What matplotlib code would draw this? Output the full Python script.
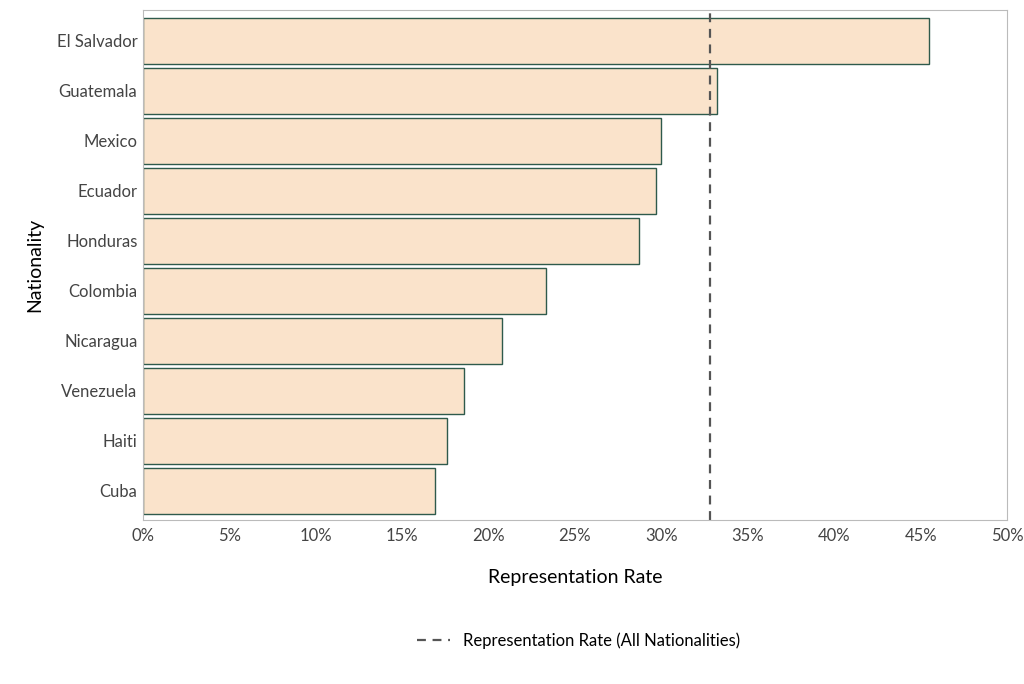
import matplotlib
matplotlib.use("Agg")
import matplotlib.pyplot as plt
from matplotlib.ticker import PercentFormatter
from matplotlib.lines import Line2D

plt.rcParams['font.family'] = ['Lato', 'DejaVu Sans']

countries = ["El Salvador", "Guatemala", "Mexico", "Ecuador", "Honduras",
             "Colombia", "Nicaragua", "Venezuela", "Haiti", "Cuba"]
rates = [0.455, 0.332, 0.300, 0.297, 0.287, 0.233, 0.208, 0.186, 0.176, 0.169]
overall_rate = 0.328

fig = plt.figure(figsize=(10.24, 6.84), dpi=100)
ax = fig.add_axes([0.1396, 0.2398, 0.8438, 0.7456])
n = len(countries)
ypos = list(range(n - 1, -1, -1))
ax.barh(ypos, rates, height=0.92, color='#FAE3CB', edgecolor='#2E5A4C', linewidth=1)
ax.axvline(overall_rate, color='#555555', linestyle=(0, (4, 3)), linewidth=1.6)
ax.set_xlim(0, 0.5)
ax.set_ylim(-0.58, n - 1 + 0.62)
ax.set_yticks(ypos)
ax.set_yticklabels(countries, fontsize=12, color='#444444')
ax.set_xticks([i * 0.05 for i in range(11)])
ax.xaxis.set_major_formatter(PercentFormatter(1.0, decimals=0))
ax.tick_params(axis='x', labelsize=12, colors='#444444', length=0, pad=6)
ax.tick_params(axis='y', length=0, pad=4)
for s in ax.spines.values():
    s.set_color('#BBBBBB')
ax.set_xlabel("Representation Rate", fontsize=14, labelpad=18)
ax.set_ylabel("Nationality", fontsize=14, labelpad=10)
h = Line2D([0], [0], color='#555555', linestyle=(0, (4, 3)), linewidth=1.6)
fig.legend([h], ["Representation Rate (All Nationalities)"], loc='center',
           bbox_to_anchor=(0.565, 0.063), frameon=False, fontsize=12)
fig.savefig("out.png", dpi=100)
